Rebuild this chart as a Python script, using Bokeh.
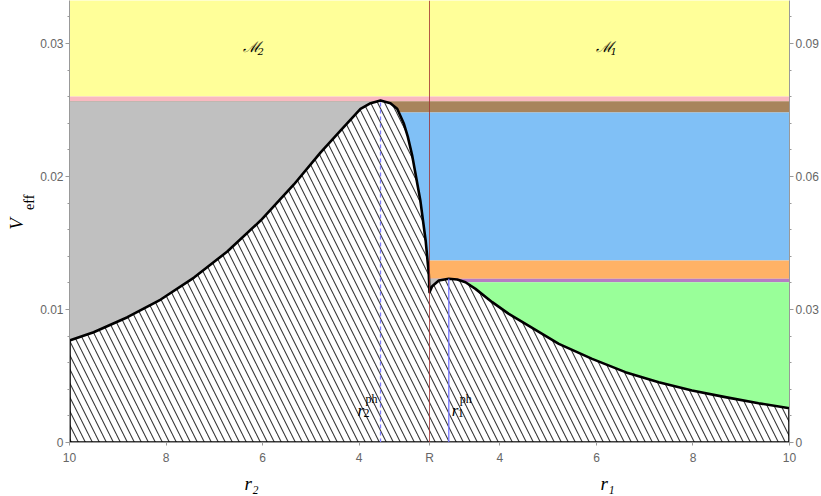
from math import pi
from bokeh.plotting import figure
from bokeh.models import Range1d, LinearAxis, FixedTicker, Label
from bokeh.embed import file_html
from bokeh.resources import INLINE

# ---------------- data ----------------
R = 2.54          # throat radius
r_lim = 10.0      # outer radius on both sides

# side 2 (left, r2 from 10 down to R)
r2 = [10.0, 9.50, 8.80, 8.11, 7.42, 6.73, 6.04, 5.35, 4.80, 4.38, 3.97, 3.76,
      3.555, 3.35, 3.21, 3.07, 2.99, 2.90, 2.83, 2.73, 2.62, 2.555, 2.54]
V2 = [0.00767, 0.00829, 0.00942, 0.01075, 0.01240, 0.01436, 0.01669, 0.01940,
      0.02180, 0.02346, 0.02509, 0.02551, 0.02571, 0.02551, 0.02509, 0.02396,
      0.02300, 0.02160, 0.02020, 0.01820, 0.01519, 0.01268, 0.01130]

# side 1 (right, r1 from R up to 10)
r1 = [2.54, 2.596, 2.733, 2.94, 3.114, 3.286, 3.493, 3.84, 4.183, 4.53, 5.22,
      5.91, 6.60, 7.29, 7.98, 8.67, 9.36, 10.0]
V1 = [0.01130, 0.01175, 0.01218, 0.01231, 0.01226, 0.01205, 0.01155, 0.01055,
      0.00967, 0.00892, 0.00742, 0.00629, 0.00529, 0.00453, 0.00391, 0.00341,
      0.00295, 0.00258]

r2_ph = 3.555
r1_ph = 2.94

band_bottom = [0.02602, 0.02566, 0.02481, 0.01368, 0.01231, 0.01205, 0.0]
band_top    = [0.04000, 0.02602, 0.02566, 0.02481, 0.01368, 0.01231, 0.01205]
band_color  = ["#FFFF99", "#F9B9C0", "#A8845C", "#80C0F6", "#FFB266", "#B57CC4", "#99FF99"]
gray_top = 0.02566

x_ticks_r = [10, 8, 6, 4]
y_ticks_left = [0, 0.01, 0.02, 0.03]
y_labels_left = ["0", "0.01", "0.02", "0.03"]
y_ticks_right = [0, 0.03, 0.06, 0.09]
y_labels_right = ["0", "0.03", "0.06", "0.09"]

# ---------------- mapping ----------------
def u_left(r):
    return -(r - R)

def u_right(r):
    return r - R

UL = u_left(r_lim)
UR = u_right(r_lim)
YTOP = 0.033233

NB = "\u00a0"

p = figure(width=821, height=496, x_range=Range1d(UL, UR), y_range=Range1d(0, YTOP),
           output_backend="svg", toolbar_location=None,
           min_border_left=69, min_border_right=31, min_border_top=0, min_border_bottom=54)
p.outline_line_color = None
p.xgrid.visible = False
p.ygrid.visible = False
p.background_fill_color = "white"
p.border_fill_color = "white"
p.extra_y_ranges = {"right": Range1d(0, 3 * YTOP)}

# bands
p.quad(left=[UL] * len(band_bottom), right=[UR] * len(band_bottom),
       bottom=band_bottom, top=band_top, fill_color=band_color, line_color=None)

# gray region on side 2 (from r2=10 up to the peak)
gx, gy = [], []
for r, v in zip(r2, V2):
    if r >= r2_ph:
        gx.append(u_left(r)); gy.append(v)
gx += [u_left(r2_ph), UL]
gy += [gray_top, gray_top]
p.patch(gx, gy, fill_color="#C0C0C0", line_color=None)

# small gray patch on side 1 between R and r1_ph
p.quad(left=[u_left(2.6)], right=[u_right(r1_ph)], bottom=[0.0105],
       top=[max(V1)], fill_color="#C0C0C0", line_color=None)

# hatched forbidden region under the potential
hx = [UL] + [u_left(r) for r in r2] + [u_right(r) for r in r1] + [UR]
hy = [0.0] + V2 + V1 + [0.0]
p.patch(hx, hy, fill_color="white", hatch_pattern="\\", hatch_scale=14,
        hatch_color="#3a3a3a", hatch_weight=1.1, line_color="black", line_width=2.6,
        line_join="round")

# throat line
p.segment(x0=[0.0], y0=[0.0], x1=[0.0], y1=[YTOP], line_color="#a03030", line_width=0.8)
# photon spheres
p.segment(x0=[u_left(r2_ph)], y0=[0.0], x1=[u_left(r2_ph)], y1=[max(V2)],
          line_color="#7f7fff", line_width=1.3, line_dash="4 3")
p.segment(x0=[u_right(r1_ph)], y0=[0.0], x1=[u_right(r1_ph)], y1=[max(V1)],
          line_color="#7575ff", line_width=1.3)

# ---------------- axes ----------------
xt = [u_left(t) for t in x_ticks_r] + [0.0] + [u_right(t) for t in reversed(x_ticks_r)]
xl = [str(t) for t in x_ticks_r] + ["R"] + [str(t) for t in reversed(x_ticks_r)]
xa = p.xaxis[0]
xa.ticker = FixedTicker(ticks=xt, minor_ticks=[])
xa.major_label_overrides = {t: l for t, l in zip(xt, xl)}

ya = p.yaxis[0]
ya.ticker = FixedTicker(ticks=y_ticks_left,
                        minor_ticks=[i * 0.002 for i in range(17) if i % 5 != 0])
ya.major_label_overrides = {t: l for t, l in zip(y_ticks_left, y_labels_left)}

ra = LinearAxis(y_range_name="right")
ra.ticker = FixedTicker(ticks=y_ticks_right,
                        minor_ticks=[i * 0.006 for i in range(17) if i % 5 != 0])
ra.major_label_overrides = {t: l for t, l in zip(y_ticks_right, y_labels_right)}
p.add_layout(ra, "right")

for ax in [xa, ya, ra]:
    ax.axis_line_color = "#999999"
    ax.major_tick_line_color = "#999999"
    ax.minor_tick_line_color = "#999999"
    ax.major_tick_in = 0
    ax.major_tick_out = 4
    ax.minor_tick_in = 0
    ax.minor_tick_out = 2
    ax.major_label_text_color = "#666666"
    ax.major_label_text_font = "Liberation Sans"
    ax.major_label_text_font_size = "12px"
    ax.major_label_standoff = 2
xa.major_tick_out = 3
xa.major_label_standoff = 5

# axis titles: bottom r2 ... r1, left V_eff
xa.axis_label = "r\u2082" + NB * 72 + "r\u2081"
xa.axis_label_text_font = "Liberation Serif"
xa.axis_label_text_font_style = "italic"
xa.axis_label_text_font_size = "19px"
xa.axis_label_text_color = "black"
xa.axis_label_standoff = 5

ya.axis_label = NB * 11 + "eff"
ya.axis_label_text_font = "Liberation Serif"
ya.axis_label_text_font_style = "normal"
ya.axis_label_text_font_size = "14px"
ya.axis_label_text_color = "black"
ya.axis_label_standoff = 0

va = LinearAxis()
va.ticker = FixedTicker(ticks=[])
va.axis_line_color = None
va.major_tick_out = 0
va.minor_tick_out = 0
va.major_tick_in = 0
va.minor_tick_in = 0
va.major_label_standoff = 0
va.axis_label = "V" + NB
va.axis_label_text_font = "Liberation Serif"
va.axis_label_text_font_style = "italic"
va.axis_label_text_font_size = "19px"
va.axis_label_text_color = "black"
va.axis_label_standoff = -7
p.add_layout(va, "left")

# ---------------- labels inside the plot ----------------
def lab(x, y, text, size, dx=0, dy=0, style="normal", font="Liberation Serif",
        color="black", align="left", baseline="alphabetic", angle=0.0):
    p.add_layout(Label(x=x, y=y, text=text, x_offset=dx, y_offset=dy,
                       text_font_size=f"{size}px", text_font_style=style,
                       text_font=font, text_color=color, text_align=align,
                       text_baseline=baseline, angle=angle))

# region names
lab(UL / 2, 0.0297, "\u2133", 15, dx=-7, style="italic", font="DejaVu Serif", baseline="middle")
lab(UL / 2, 0.0297, "2", 10, dx=8, dy=-4, style="italic", font="DejaVu Serif", baseline="middle")
lab(UR / 2, 0.0297, "\u2133", 15, dx=-14, style="italic", font="DejaVu Serif", baseline="middle")
lab(UR / 2, 0.0297, "1", 10, dx=1, dy=-4, style="italic", font="DejaVu Serif", baseline="middle")

# photon sphere labels
lab(u_left(r2_ph), 0.0024, "r", 17, dx=-23, style="italic")
lab(u_left(r2_ph), 0.0024, "2", 12, dx=-17, dy=-2)
lab(u_left(r2_ph), 0.0024, "ph", 12, dx=-15, dy=12)
lab(u_right(r1_ph), 0.0024, "r", 17, dx=3, style="italic")
lab(u_right(r1_ph), 0.0024, "1", 12, dx=9, dy=-2)
lab(u_right(r1_ph), 0.0024, "ph", 12, dx=11, dy=12)

open("out.html", "w").write(file_html(p, INLINE))
